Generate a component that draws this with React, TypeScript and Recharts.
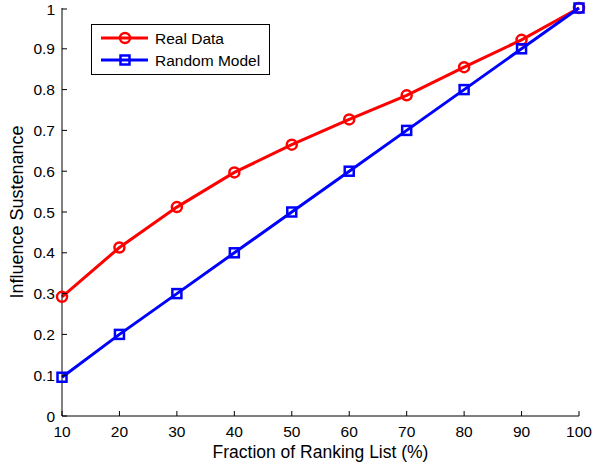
import { LineChart, Line, XAxis, YAxis, Legend } from "recharts";

const fractions = [10, 20, 30, 40, 50, 60, 70, 80, 90, 100];
const realData = [0.292, 0.413, 0.512, 0.597, 0.665, 0.727, 0.786, 0.855, 0.922, 1.0];
const randomModel = [0.095, 0.2, 0.3, 0.4, 0.5, 0.6, 0.7, 0.8, 0.9, 1.0];
const yTicks = [0, 0.1, 0.2, 0.3, 0.4, 0.5, 0.6, 0.7, 0.8, 0.9, 1];

const FONT = "'Liberation Sans', Arial, Helvetica, sans-serif";

const chartData = fractions.map((f, i) => ({
    fraction: f,
    real: realData[i],
    random: randomModel[i],
}));

const CircleDot = (props: any) => {
    const { cx, cy } = props;
    if (cx == null || cy == null) return null;
    return <circle cx={cx} cy={cy} r={5} fill="none" stroke="#ff0000" strokeWidth={2.5} />;
};

const SquareDot = (props: any) => {
    const { cx, cy } = props;
    if (cx == null || cy == null) return null;
    return <rect x={cx - 4.5} y={cy - 4.5} width={9} height={9} fill="none" stroke="#0000ff" strokeWidth={2.5} />;
};

const XTick = (props: any) => {
    const { x, y, payload } = props;
    return (
        <g>
            <line x1={x} y1={y} x2={x} y2={y - 5} stroke="#000" strokeWidth={1} />
            <text x={x} y={y + 21} textAnchor="middle" fontSize={15.5} fontFamily={FONT} fill="#000">
                {payload.value}
            </text>
        </g>
    );
};

const YTick = (props: any) => {
    const { x, y, payload } = props;
    return (
        <g>
            <line x1={x} y1={y} x2={x + 5} y2={y} stroke="#000" strokeWidth={1} />
            <text x={x - 7} y={y + 5.5} textAnchor="end" fontSize={15.5} fontFamily={FONT} fill="#000">
                {payload.value}
            </text>
        </g>
    );
};

// legend box drawn by hand, matlab style
const LegendBox = () => (
    <div
        style={{
            width: 179,
            height: 51,
            border: "1px solid #000",
            background: "#fff",
            boxSizing: "border-box",
        }}
    >
        <svg width={177} height={49} style={{ display: "block" }}>
            <line x1={9} y1={13} x2={56} y2={13} stroke="#ff0000" strokeWidth={3} />
            <circle cx={33} cy={13} r={5} fill="none" stroke="#ff0000" strokeWidth={2.5} />
            <text x={63} y={18.5} fontSize={15.5} fontFamily={FONT} fill="#000">Real Data</text>
            <line x1={9} y1={35} x2={56} y2={35} stroke="#0000ff" strokeWidth={3} />
            <rect x={28.5} y={30.5} width={9} height={9} fill="none" stroke="#0000ff" strokeWidth={2.5} />
            <text x={63} y={40.5} fontSize={15.5} fontFamily={FONT} fill="#000">Random Model</text>
        </svg>
    </div>
);

export default function App() {
    return (
        <div style={{ position: "absolute", left: 0, top: 0, background: "#fff" }}>
            <LineChart
                width={599}
                height={466}
                data={chartData}
                margin={{ top: 8, right: 20, bottom: 0, left: 0 }}
            >
                <XAxis
                    dataKey="fraction"
                    type="number"
                    domain={[10, 100]}
                    ticks={fractions}
                    tickSize={0}
                    tickMargin={0}
                    tick={<XTick />}
                    axisLine={{ stroke: "#000" }}
                    height={50}
                    label={{
                        value: "Fraction of Ranking List (%)",
                        position: "insideBottom",
                        offset: 8,
                        fontSize: 17.5,
                        fontFamily: FONT,
                        fill: "#000",
                    }}
                />
                <YAxis
                    type="number"
                    domain={[0, 1]}
                    ticks={yTicks}
                    tickSize={0}
                    tickMargin={0}
                    tick={<YTick />}
                    axisLine={{ stroke: "#000" }}
                    width={62}
                    label={{
                        value: "Influence Sustenance",
                        angle: -90,
                        position: "insideLeft",
                        offset: 17,
                        style: { textAnchor: "middle" },
                        fontSize: 18,
                        fontFamily: FONT,
                        fill: "#000",
                    }}
                />
                <Legend
                    layout="vertical"
                    align="center"
                    verticalAlign="middle"
                    content={<LegendBox />}
                    wrapperStyle={{ position: "absolute", left: 91, top: 24, width: 179 }}
                />
                <Line
                    dataKey="real"
                    stroke="#ff0000"
                    strokeWidth={3}
                    dot={<CircleDot />}
                    activeDot={false}
                    isAnimationActive={false}
                />
                <Line
                    dataKey="random"
                    stroke="#0000ff"
                    strokeWidth={3}
                    dot={<SquareDot />}
                    activeDot={false}
                    isAnimationActive={false}
                />
            </LineChart>
        </div>
    );
}
